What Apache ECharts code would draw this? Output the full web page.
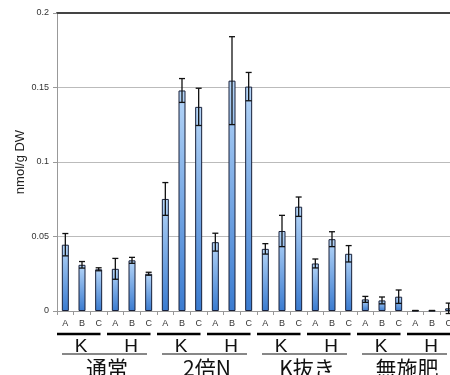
<!DOCTYPE html>
<html><head><meta charset="utf-8">
<script src="https://cdn.jsdelivr.net/npm/echarts@6/dist/echarts.min.js"></script>
<style>html,body{margin:0;padding:0;background:#fff}#c{width:450px;height:375px}</style>
</head><body><div id="c"></div>
<script>
const categories = ['A','B','C','A','B','C','A','B','C','A','B','C','A','B','C','A','B','C','A','B','C','A','B','C'];
const subgroups = ['K','H','K','H','K','H','K','H'];
const groups = ['通常','2倍N','K抜き','無施肥'];
const yTicks = [0, 0.05, 0.1, 0.15, 0.2];
const values = [0.0445,0.031,0.028, 0.0283,0.034,0.025,
                0.0752,0.148,0.137, 0.0462,0.1546,0.1506,
                0.0417,0.0537,0.070, 0.0319,0.0482,0.0384,
                0.0078,0.0071,0.0096, 0.0003,0.0003,0.0018];
const errors = [0.0075,0.0022,0.001, 0.007,0.002,0.001,
                0.011,0.008,0.0125, 0.006,0.0295,0.0095,
                0.0035,0.0105,0.0065, 0.003,0.005,0.0055,
                0.002,0.0023,0.0045, 0,0,0.0035];
const yTitle = 'nmol/g DW';

const chart = echarts.init(document.getElementById('c'), null, {renderer:'canvas'});
const errData = values.map((v,i)=>[i, v-errors[i], v+errors[i]]);
const subData = subgroups.map((s,i)=>[i*3, i*3+2]);
const grpData = groups.map((g,i)=>[i*6, i*6+5]);
const FONT = '"Liberation Sans", Arial, sans-serif';
const CJK = '"Noto Sans CJK JP", "Liberation Sans", sans-serif';

chart.setOption({
  animation:false,
  grid:{left:57, top:13, width:400, height:298, outerBoundsMode:'none', containLabel:false},
  xAxis:[{
    type:'category', data:categories, position:'bottom',
    axisLine:{lineStyle:{color:'#999', width:1}},
    axisTick:{show:true, length:4, lineStyle:{color:'#999'}},
    axisLabel:{fontSize:9, color:'#333', margin:8, fontFamily:FONT, interval:0, hideOverlap:false}
  },{
    type:'category', data:categories, position:'top',
    axisLine:{lineStyle:{color:'#444', width:2}},
    axisTick:{show:false}, axisLabel:{show:false}
  }],
  yAxis:{
    type:'value', min:0, max:0.2, interval:0.05,
    name:yTitle, nameLocation:'middle', nameGap:30, nameRotate:90, nameMoveOverlap:false,
    nameTextStyle:{fontSize:13, color:'#222', fontFamily:FONT},
    axisLine:{show:true, lineStyle:{color:'#999'}},
    axisTick:{show:true, length:4, lineStyle:{color:'#999'}},
    axisLabel:{fontSize:9, color:'#333', margin:8, fontFamily:FONT,
      formatter:v=>String(yTicks.find(t=>Math.abs(t-v)<1e-9) ?? v)},
    splitLine:{lineStyle:{color:'#bbb', width:1}}
  },
  series:[{
    type:'bar', data:values, barWidth:7,
    itemStyle:{
      color:new echarts.graphic.LinearGradient(0,0,0,1,[{offset:0,color:'#b6d6f8'},{offset:1,color:'#3a7bd0'}]),
      borderColor:'#18203a', borderWidth:1
    }
  },{
    type:'custom', data:errData, z:5,
    renderItem:(p,api)=>{
      const hi = api.coord([api.value(0), api.value(2)]);
      const lo = api.coord([api.value(0), api.value(1)]);
      const c = 3;
      const st = {stroke:'#111', lineWidth:1.3};
      return {type:'group', children:[
        {type:'line', shape:{x1:hi[0],y1:hi[1],x2:lo[0],y2:lo[1]}, style:st},
        {type:'line', shape:{x1:hi[0]-c,y1:hi[1],x2:hi[0]+c,y2:hi[1]}, style:st},
        {type:'line', shape:{x1:lo[0]-c,y1:lo[1],x2:lo[0]+c,y2:lo[1]}, style:st}
      ]};
    }
  },{
    type:'custom', data:subData, clip:false, silent:true,
    renderItem:(p,api)=>{
      const s = api.coord([api.value(0), 0]);
      const e = api.coord([api.value(1), 0]);
      const bw = api.size([1,0])[0];
      const x0 = s[0]-bw/2, x1 = e[0]+bw/2, y0 = s[1];
      return {type:'group', children:[
        {type:'line', shape:{x1:x0, y1:y0+23, x2:x1-6.5, y2:y0+23}, style:{stroke:'#000', lineWidth:2.5}},
        {type:'text', style:{text:subgroups[p.dataIndex], x:(x0+x1)/2 - 1, y:y0+36,
          textAlign:'center', textVerticalAlign:'middle', fontSize:19, fontFamily:FONT, fill:'#111'}}
      ]};
    }
  },{
    type:'custom', data:grpData, clip:false, silent:true,
    renderItem:(p,api)=>{
      const s = api.coord([api.value(0), 0]);
      const e = api.coord([api.value(1), 0]);
      const bw = api.size([1,0])[0];
      const x0 = s[0]-bw/2, x1 = e[0]+bw/2, y0 = s[1];
      return {type:'group', children:[
        {type:'line', shape:{x1:x0+5, y1:y0+43, x2:x1-10, y2:y0+43}, style:{stroke:'#111', lineWidth:1.2}},
        {type:'text', style:{text:groups[p.dataIndex], x:(x0+x1)/2, y:y0+57,
          textAlign:'center', textVerticalAlign:'middle', fontSize:21, fontFamily:CJK, fill:'#111'}}
      ]};
    }
  }]
});
</script></body></html>
